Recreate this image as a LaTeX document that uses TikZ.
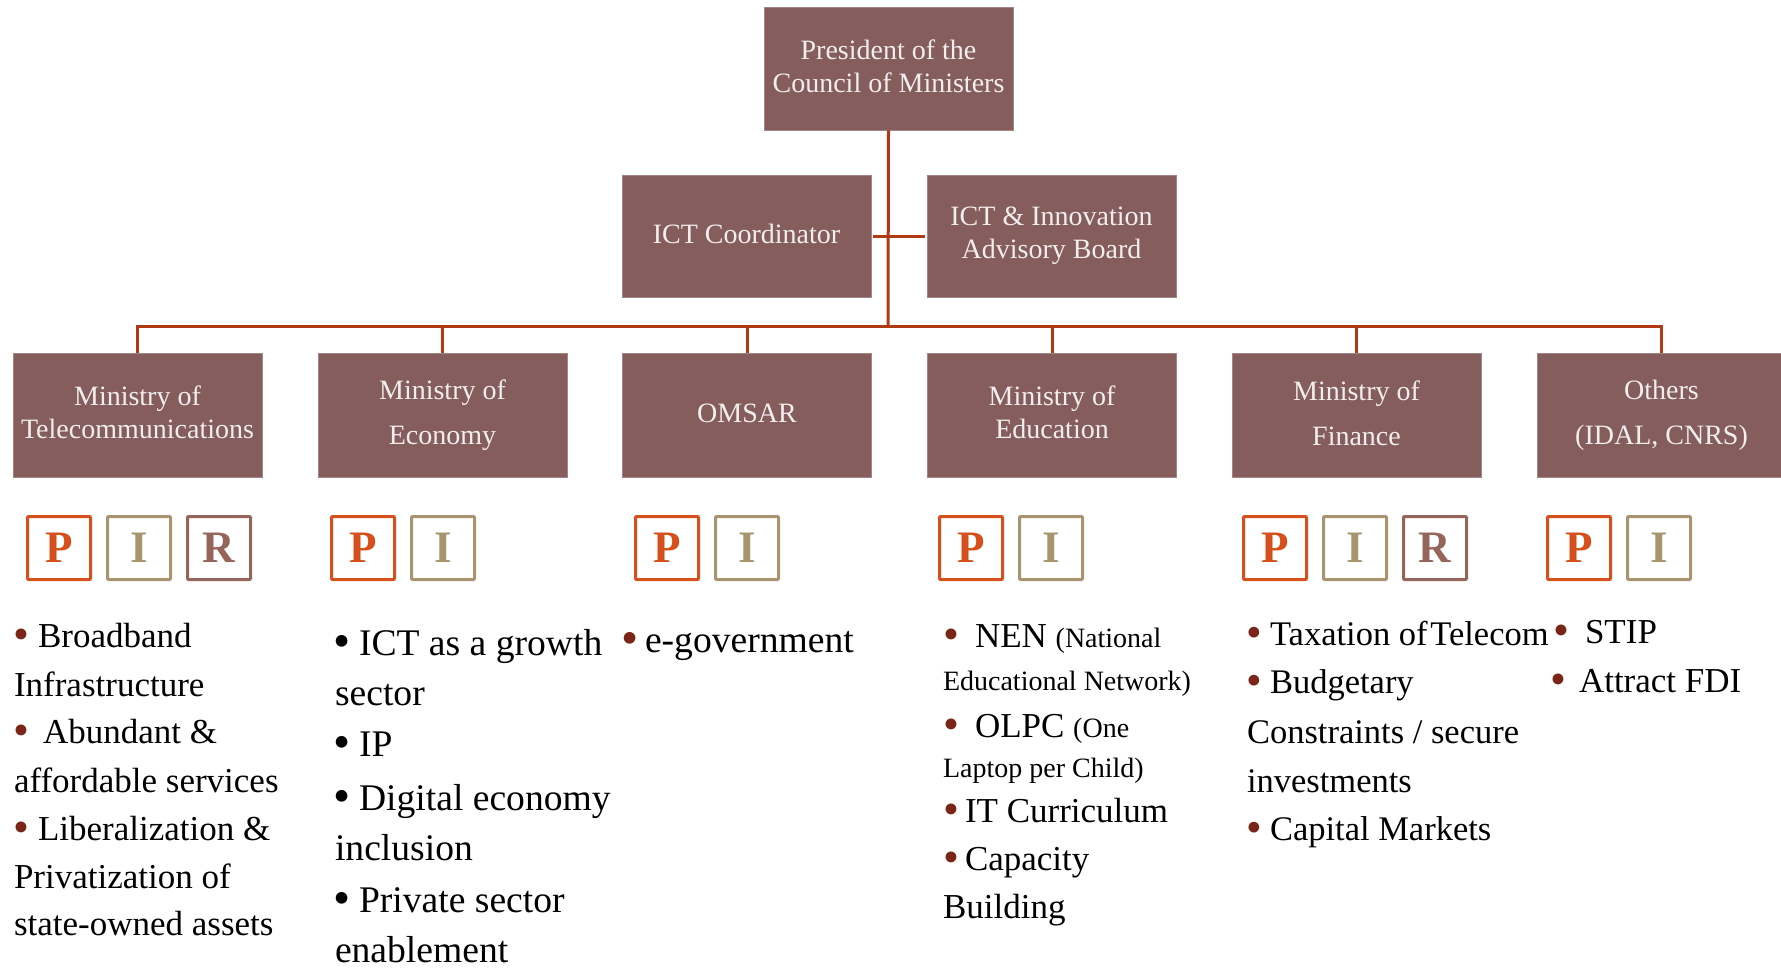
\documentclass[tikz,border=0pt]{standalone}
\usepackage{graphicx}
\usepackage{fontspec}
\setmainfont{Liberation Serif}
\definecolor{boxfill}{HTML}{855D5D}
\definecolor{boxedge}{HTML}{A58686}
\definecolor{conn}{HTML}{B03A14}
\definecolor{pcol}{HTML}{D6501E}
\definecolor{icol}{HTML}{A8946F}
\definecolor{rcol}{HTML}{95645A}
\definecolor{bulred}{HTML}{7B2418}
\definecolor{boxtext}{HTML}{F3EEEE}
\newcommand{\bigdot}{\raisebox{-2pt}{\scalebox{1.3}{•}}}
\newcommand{\RB}{\textcolor{bulred}{\bigdot}}
\newcommand{\KB}{\textcolor{black}{\bigdot}}
\newcommand{\bl}[2]{\makebox[#1pt][l]{#2}}
\newcommand{\fA}{\fontsize{35}{42}\selectfont}
\newcommand{\fB}{\fontsize{37.6}{44}\selectfont}
\newcommand{\fD}{\fontsize{35}{42}\selectfont}
\newcommand{\fDs}{\fontsize{28}{33}\selectfont}
\newcommand{\fE}{\fontsize{34.5}{40}\selectfont}
\tikzset{
  orgbox/.style={rectangle, fill=boxfill, draw=boxedge, line width=0.8pt,
    minimum width=249pt, minimum height=123pt, inner sep=0pt, text=boxtext,
    align=center, font=\fontsize{28}{33}\selectfont},
  link/.style={draw=conn, line width=3pt},
  role/.style={rectangle, draw=#1, text=#1, line width=3pt, minimum size=63pt,
    inner sep=0pt, rounded corners=1pt, font=\fontsize{45}{45}\selectfont\bfseries},
  txtline/.style={anchor=base west, inner sep=0pt, outer sep=0pt, text=black},
}
\begin{document}
\begin{tikzpicture}[x=1pt,y=-1pt]
\fill[white] (0,0) rectangle (1781,967);
\useasboundingbox (0,0) rectangle (1781,967);

% top level
\node[orgbox, text depth=5pt] (pres) at (888.5,68.5) {President of the\\Council of Ministers};
\node[orgbox, minimum height=122pt, text depth=4pt] (coord) at (746.5,236) {ICT Coordinator};
\node[orgbox, minimum height=122pt] (board) at (1051.5,236) {ICT \& Innovation\\Advisory Board};

% ministries
\node[orgbox, minimum height=124pt, text depth=6pt] (m1) at (137.5,415) {Ministry of\\Telecommunications};
\node[orgbox, minimum height=124pt] (m2) at (442.5,415) {Ministry of\\[12pt]Economy};
\node[orgbox, minimum height=124pt, text depth=4pt] (m3) at (747,415) {OMSAR};
\node[orgbox, minimum height=124pt, text depth=6pt] (m4) at (1052,415) {Ministry of\\Education};
\node[orgbox, minimum height=124pt, text depth=3pt] (m5) at (1356.5,415) {Ministry of\\[12pt]Finance};
\node[orgbox, minimum height=124pt] (m6) at (1661.5,415) {Others\\[12pt](IDAL, CNRS)};

% connectors
\coordinate (hub) at (888,326);
\draw[link] (pres.south) -- (hub);
\draw[link, shorten <=2pt, shorten >=2pt] (coord.east) -- (board.west);
\foreach \m in {m1,m2,m3,m4,m5,m6}{
  \draw[link] (hub) -| (\m.north);
}

% P I R boxes
\node[role=pcol] (p1) at (59,548) {P};
\node[role=icol] (i1) at (139,548) {I};
\node[role=rcol] (r1) at (219,548) {R};
\node[role=pcol] (p2) at (363,548) {P};
\node[role=icol] (i2) at (443,548) {I};
\node[role=pcol] (p3) at (667,548) {P};
\node[role=icol] (i3) at (747,548) {I};
\node[role=pcol] (p4) at (971,548) {P};
\node[role=icol] (i4) at (1051,548) {I};
\node[role=pcol] (p5) at (1275,548) {P};
\node[role=icol] (i5) at (1355,548) {I};
\node[role=rcol] (r5) at (1435,548) {R};
\node[role=pcol] (p6) at (1579,548) {P};
\node[role=icol] (i6) at (1659,548) {I};

% column 1
\begin{scope}[every node/.style={txtline, font=\fA}]
\node (c1a) at (13,647) {\bl{25}{\RB}Broadband};
\node (c1b) at (14,696) {Infrastructure};
\node (c1c) at (13,743) {\bl{30}{\RB}Abundant \&};
\node (c1d) at (14,792) {affordable services};
\node (c1e) at (13,840) {\bl{25}{\RB}Liberalization \&};
\node (c1f) at (14,888) {Privatization of};
\node (c1g) at (14,935) {state-owned assets};
\end{scope}

% column 2
\begin{scope}[every node/.style={txtline, font=\fB}]
\node (c2a) at (333,655) {\bl{26}{\KB}ICT as a growth};
\node (c2b) at (335,705) {sector};
\node (c2c) at (333,756) {\bl{26}{\KB}IP};
\node (c2d) at (333,810) {\bl{26}{\KB}Digital economy};
\node (c2e) at (335,860) {inclusion};
\node (c2f) at (333,912) {\bl{26}{\KB}Private sector};
\node (c2g) at (335,962) {enablement};
\end{scope}

% column 3
\node[txtline, font=\fB] (c3a) at (621,652) {\bl{24}{\RB}e-government};

% column 4
\begin{scope}[every node/.style={txtline, font=\fD}]
\node (c4a) at (943,647) {\bl{32}{\RB}NEN {\fDs(National}};
\node (c4b) at (943,690) {\fDs Educational Network)};
\node (c4c) at (943,737) {\bl{32}{\RB}OLPC {\fDs(One}};
\node (c4d) at (943,777) {\fDs Laptop per Child)};
\node (c4e) at (943,822) {\bl{22}{\RB}IT Curriculum};
\node (c4f) at (943,870) {\bl{22}{\RB}Capacity};
\node (c4g) at (943,918) {Building};
\end{scope}

% column 5
\begin{scope}[every node/.style={txtline, font=\fE}]
\node (c5a) at (1246,645) {\bl{24}{\RB}Taxation of\hspace{0.08em}Telecom};
\node (c5b) at (1246,693) {\bl{24}{\RB}Budgetary};
\node (c5c) at (1247,743) {Constraints / secure};
\node (c5d) at (1247,792) {investments};
\node (c5e) at (1246,840) {\bl{24}{\RB}Capital Markets};
\end{scope}

% column 6
\begin{scope}[every node/.style={txtline, font=\fA}]
\node (c6a) at (1553,643) {\bl{32}{\RB}STIP};
\node (c6b) at (1550,692) {\bl{29}{\RB}Attract FDI};
\end{scope}
\end{tikzpicture}
\end{document}
